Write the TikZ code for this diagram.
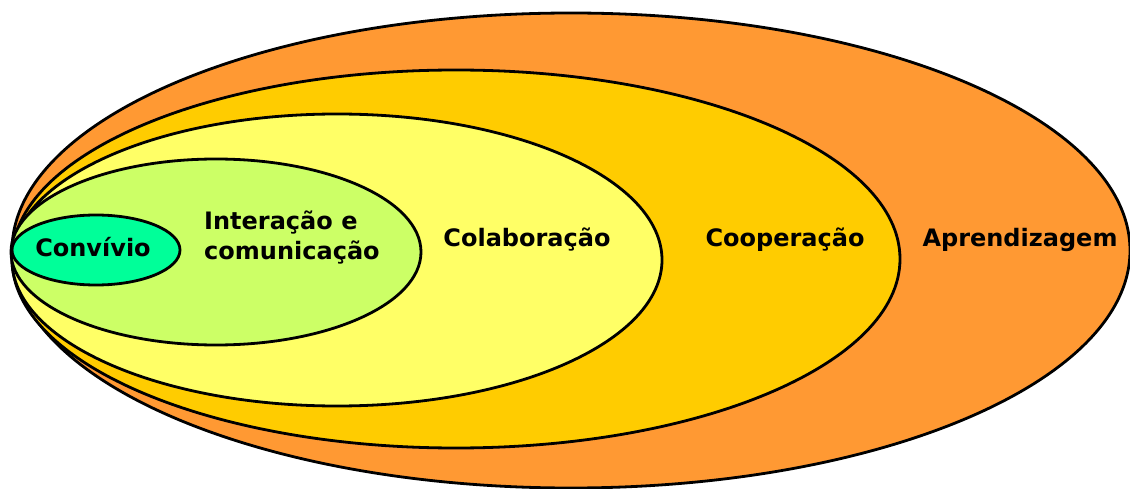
\documentclass[tikz,border=0pt]{standalone}
\usepackage{fontspec}
\setmainfont{DejaVu Sans}
\definecolor{cOrange}{HTML}{FF9933}
\definecolor{cGold}{HTML}{FFCC00}
\definecolor{cYellow}{HTML}{FFFF66}
\definecolor{cLime}{HTML}{CCFF66}
\definecolor{cMint}{HTML}{00FF99}
\tikzset{
  ring/.style={draw=black, line width=2.8pt},
  lbl/.style={font=\fontsize{24}{30}\selectfont\bfseries, inner sep=0pt, text=black}
}
\begin{document}
\begin{tikzpicture}[x=1pt,y=-1pt]
\useasboundingbox (0,0) rectangle (1130,489);
\fill[white] (0,0) rectangle (1130,489);
\draw[ring, fill=cOrange] (571,250.5) ellipse [x radius=559, y radius=237.5];
\draw[ring, fill=cGold] (456,259) ellipse [x radius=444, y radius=189];
\draw[ring, fill=cYellow] (337,260) ellipse [x radius=325, y radius=146];
\draw[ring, fill=cLime] (216,252) ellipse [x radius=205, y radius=93];
\draw[ring, fill=cMint] (96,250) ellipse [x radius=84, y radius=35];
\node[lbl] (conv) at (93,247) {Convívio};
\node[lbl, align=left, anchor=west] (inter) at (204,238) {Interação e\\comunicação};
\node[lbl] (colab) at (527,240) {Colaboração};
\node[lbl] (coop) at (785,240) {Cooperação};
\node[lbl] (apren) at (1020,240) {Aprendizagem};
\end{tikzpicture}
\end{document}
